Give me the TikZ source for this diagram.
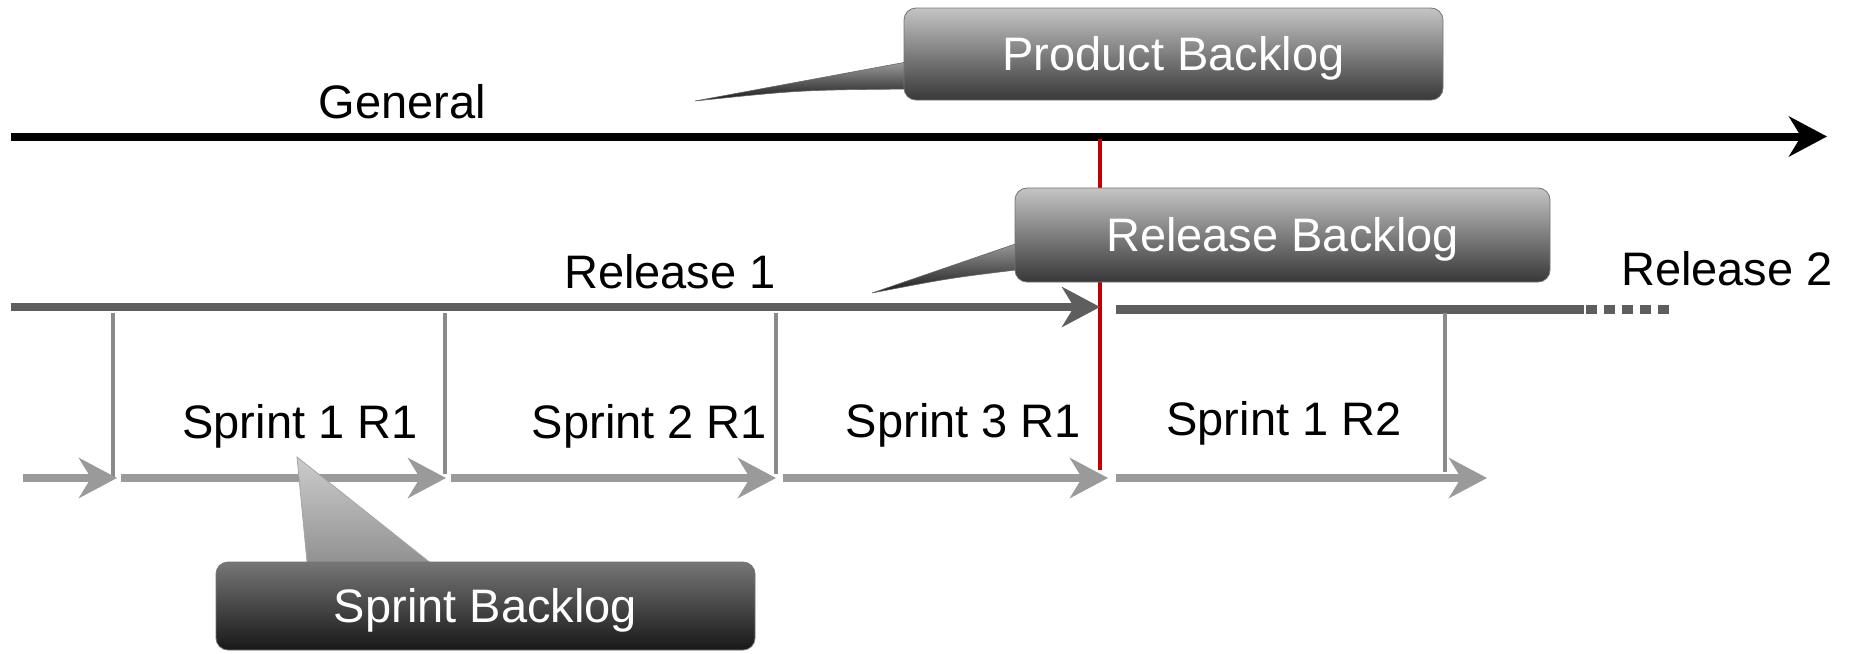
\documentclass[tikz,border=0pt]{standalone}
\usepackage{fontspec}
\setmainfont{Liberation Sans}
\usetikzlibrary{arrows.meta}
\definecolor{relgray}{HTML}{5E5E5E}
\definecolor{sprgray}{HTML}{9A9A9A}
\definecolor{divgray}{HTML}{8A8A8A}
\definecolor{redmark}{HTML}{C00000}
\definecolor{boxtop}{HTML}{C4C4C4}
\definecolor{boxbot}{HTML}{383838}
\definecolor{sboxtop}{HTML}{767676}
\definecolor{sboxbot}{HTML}{181818}
\newcommand\lblfont{\fontsize{23.5pt}{28pt}\selectfont}
\tikzset{
  lbl/.style={font=\lblfont, anchor=base, inner sep=0pt},
  genline/.style={draw=black, line width=4pt, -{Stealth[length=19pt, width=20pt, inset=6pt]}},
  relline/.style={draw=relgray, line width=4.3pt},
  relarrow/.style={relline, -{Stealth[length=19pt, width=20pt, inset=6pt]}},
  sprarrow/.style={draw=sprgray, line width=3.75pt, -{Stealth[length=19pt, width=20pt, inset=6pt]}},
  divline/.style={draw=divgray, line width=1.8pt},
  redl/.style={draw=redmark, line width=1.9pt},
  callbox/.style={rounded corners=6pt, top color=boxtop, bottom color=boxbot, draw=black!55, line width=0.4pt,
    text=white, font=\lblfont, text height=16.8pt, text depth=0pt, inner sep=0pt},
  scallbox/.style={callbox, top color=sboxtop, bottom color=sboxbot},
  darkptr/.style={top color=gray!75, bottom color=black!90, draw=black!60, line width=0.3pt},
  lightptr/.style={top color=gray!40, bottom color=gray!90, draw=gray!70, line width=0.4pt},
}
\begin{document}
\begin{tikzpicture}[x=0.5pt,y=-0.5pt]
\useasboundingbox (0,0) rectangle (1850,653);
% ---------- general timeline
\coordinate (g0) at (11,136.5);
\coordinate (g1) at (1827,136.5);
\draw[genline] (g0) -- (g1);
\node[lbl] (general) at (402.5,118) {General};
% ---------- red release marker
\coordinate (r0) at (1100,139);
\coordinate (r1) at (1100,470);
\draw[redl] (r0) -- (r1);
% ---------- release lines
\coordinate (ra0) at (11,307);
\coordinate (ra1) at (1100,307);
\draw[relarrow] (ra0) -- (ra1);
\coordinate (rb0) at (1116,309.5);
\coordinate (rb1) at (1584,309.5);
\coordinate (rb1d) at (1586,309.5);
\coordinate (rb2) at (1672,309.5);
\draw[relline] (rb0) -- (rb1);
\draw[relline, dash pattern=on 5.25pt off 3.75pt] (rb1d) -- (rb2);
\node[lbl] (rel1) at (670,288) {Release 1};
\node[lbl] (rel2) at (1727,285) {Release 2};
% ---------- sprint dividers
\foreach \x/\b [count=\i] in {113/477, 445/474, 776/474, 1445/472}{
  \coordinate (d\i t) at (\x,313);
  \coordinate (d\i b) at (\x,\b);
  \draw[divline] (d\i t) -- (d\i b);
}
% ---------- sprint arrows
\coordinate (s0a) at (23,478);   \coordinate (s0b) at (117,478);
\coordinate (s1a) at (121,478);  \coordinate (s1b) at (446,478);
\coordinate (s2a) at (451,478);  \coordinate (s2b) at (776,478);
\coordinate (s3a) at (783,478);  \coordinate (s3b) at (1108,478);
\coordinate (s4a) at (1116,478); \coordinate (s4b) at (1487,478);
\foreach \i in {0,...,4}{\draw[sprarrow] (s\i a) -- (s\i b);}
\node[lbl] (sp11) at (300,438) {Sprint 1 R1};
\node[lbl] (sp21) at (649.5,438) {Sprint 2 R1};
\node[lbl] (sp31) at (963.5,437) {Sprint 3 R1};
\node[lbl] (sp12) at (1284,435) {Sprint 1 R2};
% ---------- Product Backlog callout
\coordinate (pbtip) at (695,101);
\shade[darkptr] (912,61) -- (pbtip) .. controls (800,90) .. (912,89) -- cycle;
\node[callbox, minimum width=269.5pt, minimum height=46pt] (pb) at (1173.5,54) {Product Backlog};
% ---------- Release Backlog callout
\coordinate (rbtip) at (872,293);
\shade[darkptr] (1024,241) -- (rbtip) .. controls (950,278) .. (1024,269) -- cycle;
\node[callbox, minimum width=267.5pt, minimum height=47pt] (rb) at (1282.5,235) {Release Backlog};
% ---------- Sprint Backlog callout
\coordinate (sbtip) at (297,457);
\shade[lightptr] (sbtip) -- (308,572) -- (442,572) -- cycle;
\node[scallbox, minimum width=269.5pt, minimum height=44pt] (sb) at (485.5,606) {Sprint Backlog};
\end{tikzpicture}
\end{document}
